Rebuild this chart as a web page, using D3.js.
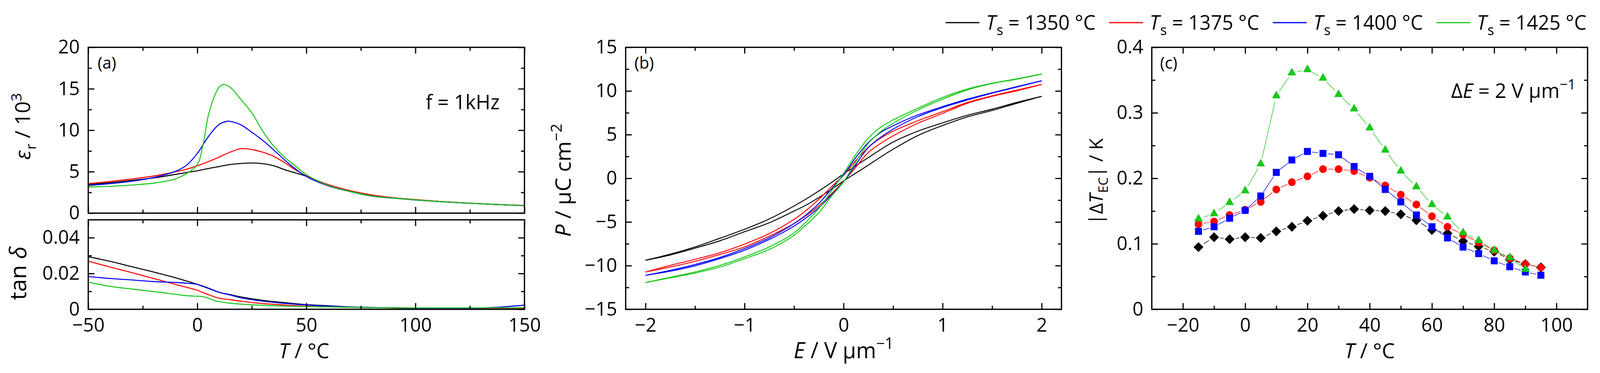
<!DOCTYPE html>
<html><head><meta charset="utf-8">
<script src="https://cdn.jsdelivr.net/npm/d3@7"></script>
<style>
html,body{margin:0;padding:0;background:#fff;overflow:hidden;}
svg{display:block;width:100vw;height:956px;font-family:"Open Sans",sans-serif;}
</style></head><body>
<svg id="chart" viewBox="0 0 4146 956" preserveAspectRatio="none"></svg>
<script>
// ---------------- DATA ----------------
const seriesLabels = ["1350", "1375", "1400", "1425"];
const seriesColors = ["#000000", "#ff0000", "#0000ff", "#19c819"];

// (a) relative permittivity (x 10^3) vs T
const epsT = [-50,-40,-30,-20,-10,-5,0,5,10,15,20,25,30,35,40,45,50,60,70,80,90,100,110,120,130,140,150];
const eps1350 = [3.47,3.67,3.96,4.25,4.68,4.90,5.11,5.38,5.62,5.86,5.99,6.05,5.97,5.72,5.25,4.85,4.45,3.40,2.68,2.15,1.85,1.62,1.42,1.27,1.14,1.02,0.93];
const eps1375 = [3.56,3.82,4.13,4.48,4.99,5.30,5.71,6.20,6.77,7.35,7.78,7.68,7.35,6.85,6.10,5.22,4.50,3.45,2.72,2.20,1.86,1.63,1.43,1.27,1.14,1.02,0.93];
const epsT1400 = [-50,-40,-30,-20,-10,-5,0,5,10,14,15,20,25,30,35,40,45,50,60,70,80,90,100,110,120,130,140,150];
const eps1400 = [3.33,3.56,3.85,4.30,5.05,5.77,7.20,9.21,10.70,11.09,11.07,10.65,9.75,8.78,7.63,6.43,5.34,4.42,3.30,2.60,2.05,1.80,1.58,1.40,1.25,1.12,1.00,0.90];
const epsT1425 = [-50,-40,-30,-20,-10,-5,-1,0,1,2,3,5,8,10,12,15,20,25,30,35,40,45,50,60,70,80,90,100,110,120,130,140,150];
const eps1425 = [3.16,3.24,3.39,3.62,4.13,4.76,5.54,5.90,6.40,7.50,8.70,11.70,14.20,15.20,15.52,15.20,13.70,12.10,9.90,8.10,6.75,5.70,4.65,3.35,2.62,2.08,1.82,1.60,1.41,1.26,1.13,1.01,0.91];

// (a) loss tangent vs T
const tanT = [-50,-40,-30,-20,-10,-5,0,5,10,15,20,30,40,50,60,70,80,100,120,130,140,150];
const tan1350 = [0.0294,0.0268,0.0238,0.0208,0.0176,0.0158,0.0139,0.0117,0.0095,0.0082,0.0069,0.0050,0.0037,0.0026,0.0020,0.0013,0.0010,0.0007,0.0006,0.0006,0.0006,0.0006];
const tan1375 = [0.0269,0.0236,0.0205,0.0172,0.0139,0.0123,0.0106,0.0082,0.0062,0.0054,0.0045,0.0032,0.0024,0.0017,0.0014,0.0011,0.0009,0.0006,0.0005,0.0005,0.0005,0.0005];
const tan1400 = [0.0183,0.0172,0.0164,0.0155,0.0150,0.0146,0.0139,0.0119,0.0095,0.0080,0.0064,0.0045,0.0033,0.0024,0.0018,0.0013,0.0010,0.0007,0.0006,0.0007,0.0013,0.0023];
const tanT1425 = [-50,-40,-30,-20,-10,-5,0,2,5,8,10,15,20,30,40,50,60,70,80,100,120,130,140,150];
const tan1425 = [0.0152,0.0128,0.0113,0.0099,0.0084,0.0076,0.0073,0.0072,0.0062,0.0048,0.0043,0.0034,0.0029,0.0022,0.0018,0.0015,0.0013,0.0011,0.0009,0.0008,0.0008,0.0008,0.0008,0.0009];

// (b) P-E loops: upper (descending) and lower (ascending) branches
const pE = [-2,-1.75,-1.5,-1.25,-1,-0.75,-0.5,-0.375,-0.25,-0.125,0,0.125,0.25,0.375,0.5,0.75,1,1.25,1.5,1.75,2];
const pUp1350 = [-9.39,-8.69,-7.86,-6.87,-5.84,-4.65,-3.17,-2.35,-1.45,-0.50,0.50,1.45,2.37,3.30,4.15,5.40,6.35,7.22,7.92,8.69,9.39];
const pLo1350 = [-9.39,-8.78,-8.00,-7.16,-6.12,-5.09,-3.75,-3.05,-2.21,-1.30,-0.30,0.60,1.51,2.45,3.33,4.90,6.05,7.03,7.77,8.59,9.39];
const pUp1375 = [-10.73,-9.97,-9.28,-8.53,-7.54,-6.33,-4.70,-3.65,-2.41,-1.00,0.35,2.05,3.55,4.60,5.40,6.60,7.63,8.69,9.45,10.10,10.75];
const pLo1375 = [-10.73,-10.16,-9.51,-8.72,-7.86,-6.62,-5.18,-4.25,-3.17,-1.80,-0.35,1.30,2.95,4.00,4.86,6.30,7.44,8.59,9.39,10.02,10.75];
const pUp1400 = [-11.11,-10.54,-9.87,-9.07,-8.05,-6.81,-5.18,-4.15,-2.89,-1.25,0.40,2.40,4.10,5.25,6.01,7.25,8.21,9.07,9.80,10.50,11.17];
const pLo1400 = [-11.11,-10.64,-10.02,-9.20,-8.24,-7.00,-5.47,-4.50,-3.37,-1.95,-0.40,1.60,3.52,4.70,5.63,7.06,8.11,8.97,9.75,10.45,11.17];
const pUp1425 = [-11.94,-11.33,-10.73,-9.97,-9.01,-7.86,-6.24,-4.95,-3.45,-1.50,0.56,2.75,4.60,5.85,6.68,8.02,9.26,10.22,10.89,11.40,11.94];
const pLo1425 = [-11.94,-11.40,-10.85,-10.16,-9.20,-8.15,-6.52,-5.30,-3.95,-2.10,-0.40,1.90,4.00,5.35,6.30,7.83,9.07,10.12,10.85,11.35,11.94];

// (c) electrocaloric temperature change |dT_EC| / K
const ecT = [-15,-10,-5,0,5,10,15,20,25,30,35,40,45,50,55,60,65,70,75,80,85,90,95];
const ec1350 = [0.095,0.110,0.107,0.110,0.109,0.119,0.126,0.135,0.143,0.150,0.153,0.151,0.150,0.145,0.136,0.121,0.116,0.104,0.096,0.088,0.076,0.069,0.064];
const ec1375 = [0.130,0.134,0.144,0.152,0.164,0.183,0.194,0.203,0.214,0.214,0.211,0.201,0.189,0.175,0.160,0.142,0.126,0.114,0.102,0.090,0.078,0.069,0.064];
const ec1400 = [0.119,0.126,0.139,0.151,0.173,0.209,0.228,0.241,0.238,0.236,0.218,0.203,0.183,0.164,0.144,0.126,0.109,0.095,0.085,0.074,0.065,0.057,0.052];
const ec1425 = [0.138,0.146,0.163,0.181,0.222,0.326,0.361,0.366,0.353,0.328,0.306,0.277,0.243,0.211,0.187,0.160,0.141,0.117,0.105,0.090,0.079,0.061];

// tick values
const aXMajor = [-50,0,50,100,150], aXMinor = [-25,25,75,125];
const epsMajor = [0,5,10,15,20], epsMinor = [2.5,7.5,12.5,17.5];
const tanMajor = [0,0.02,0.04], tanMinor = [0.01,0.03];
const bXMajor = [-2,-1,0,1,2], bXMinor = [-1.5,-0.5,0.5,1.5];
const bYMajor = [-15,-10,-5,0,5,10,15], bYMinor = [-12.5,-7.5,-2.5,2.5,7.5,12.5];
const cXMajor = [-20,0,20,40,60,80,100], cXMinor = [-10,10,30,50,70,90];
const cYMajor = [0,0.1,0.2,0.3,0.4], cYMinor = [0.05,0.15,0.25,0.35];

// ---------------- LAYOUT ----------------
const svg = d3.select("#chart");
const TICKFONT = 49, TITLEFONT = 56, MAJ = 16, MIN = 9;

const xa = d3.scaleLinear([-50,150],[228.7,1359]);
const ye = d3.scaleLinear([0,20],[546.3,121.3]);
const yt = d3.scaleLinear([0,0.05],[792.7,563.4]);
const xb = d3.scaleLinear([-2.2,2.2],[1621.3,2750.5]);
const yb = d3.scaleLinear([-15,15],[792.7,121.3]);
const xc = d3.scaleLinear([-30,110],[2984.6,4113.8]);
const yc = d3.scaleLinear([0,0.4],[792.7,121.3]);

function styleAxis(g){
  g.select(".domain").remove();
  g.selectAll(".tick line").attr("stroke","#000").attr("stroke-width",3);
  g.attr("font-family",null).attr("font-size",null);
}
function frame(x, y, xMaj, xMin, yMaj, yMin, xFmt, yFmt){
  const [x0,x1] = x.range(), [y1,y0] = y.range();
  const g = svg.append("g");
  const put = (gen, scale, vals, size, tr) =>
    g.append("g").attr("transform",tr).call(gen(scale).tickValues(vals).tickSize(-size).tickFormat("")).call(styleAxis);
  put(d3.axisBottom, x, xMaj, MAJ, `translate(0,${y1})`);
  put(d3.axisBottom, x, xMin, MIN, `translate(0,${y1})`);
  put(d3.axisTop, x, xMaj, MAJ, `translate(0,${y0})`);
  put(d3.axisTop, x, xMin, MIN, `translate(0,${y0})`);
  put(d3.axisLeft, y, yMaj, MAJ, `translate(${x0},0)`);
  put(d3.axisLeft, y, yMin, MIN, `translate(${x0},0)`);
  put(d3.axisRight, y, yMaj, MAJ, `translate(${x1},0)`);
  put(d3.axisRight, y, yMin, MIN, `translate(${x1},0)`);
  if (xFmt) {
    const gl = g.append("g").attr("transform",`translate(0,${y1})`)
      .call(d3.axisBottom(x).tickValues(xMaj).tickSize(0).tickPadding(23).tickFormat(xFmt)).call(styleAxis);
    gl.selectAll("text").attr("font-size",TICKFONT).attr("fill","#000");
  }
  if (yFmt) {
    const gl = g.append("g").attr("transform",`translate(${x0},0)`)
      .call(d3.axisLeft(y).tickValues(yMaj).tickSize(0).tickPadding(22).tickFormat(yFmt)).call(styleAxis);
    gl.selectAll("text").attr("font-size",TICKFONT).attr("fill","#000");
  }
  g.append("rect").attr("x",x0).attr("y",y0).attr("width",x1-x0).attr("height",y1-y0)
    .attr("fill","none").attr("stroke","#000").attr("stroke-width",3.3);
}
const fmtMinus = d => (d < 0 ? "\u2212" : "") + Math.abs(d);
const fmt2 = d => d === 0 ? "0" : d3.format(".2f")(d);
const fmt1 = d => d === 0 ? "0" : d3.format(".1f")(d);

// rich text helper: parts = [{t, it, sub, sup}]
function rich(sel, parts, size){
  sel.selectAll("tspan").remove();
  let shift = 0;
  parts.forEach(p => {
    const target = p.sub ? size*0.28 : p.sup ? -size*0.42 : 0;
    const ts = sel.append("tspan").text(p.t)
      .attr("font-size", (p.sub||p.sup) ? size*0.7 : size)
      .attr("dy", target - shift);
    if (p.sub) ts.attr("dx", size*0.04);
    if (p.it) ts.attr("font-style","italic");
    shift = target;
  });
  return sel;
}
// label; if a target width is given, the font size is tuned to it
function label(x, y, parts, size, anchor, rot, target){
  const t = svg.append("text").attr("fill","#000").attr("text-anchor",anchor||"start")
    .attr("transform", `translate(${x},${y})` + (rot ? ` rotate(${rot})` : ""));
  rich(t, parts, size);
  if (target) {
    const w = t.node().getBBox().width;
    if (w > 0) {
      const k = Math.max(0.8, Math.min(1.12, target / w));
      rich(t, parts, size * k);
    }
  }
  return t;
}

// ---------------- PANEL (a) ----------------
const smooth = d3.curveCatmullRom.alpha(0.5);
const lineA = (xs, ys, yScale) => d3.line().curve(smooth)
  .x((d,i)=>xa(xs[i])).y(d=>yScale(d))(ys);
const epsSets = [[epsT,eps1350],[epsT,eps1375],[epsT1400,eps1400],[epsT1425,eps1425]];
const tanSets = [[tanT,tan1350],[tanT,tan1375],[tanT,tan1400],[tanT1425,tan1425]];
epsSets.forEach(([xs,ys],i)=> svg.append("path").attr("d",lineA(xs,ys,ye))
  .attr("fill","none").attr("stroke",seriesColors[i]).attr("stroke-width",2.6));
tanSets.forEach(([xs,ys],i)=> svg.append("path").attr("d",lineA(xs,ys,yt))
  .attr("fill","none").attr("stroke",seriesColors[i]).attr("stroke-width",2.6));
frame(xa, ye, aXMajor, aXMinor, epsMajor, epsMinor, null, fmtMinus);
frame(xa, yt, aXMajor, aXMinor, tanMajor, tanMinor, fmtMinus, fmt2);

label(253, 176, [{t:"(a)"}], 42);
label(1103, 280, [{t:"f = 1kHz"}], 52, "start", 0, 192);
label(78, 324, [{t:"\u03b5",it:true},{t:"r",sub:true},{t:" / 10"},{t:"3",sup:true}], TITLEFONT, "middle", -90, 171);
label(68, 700, [{t:"tan "},{t:"\u03b4",it:true}], TITLEFONT, "middle", -90, 138);
label(788, 918, [{t:"T",it:true},{t:" / \u00b0C"}], TITLEFONT, "middle", 0, 131);

// ---------------- PANEL (b) ----------------
const lineB = d3.line().curve(smooth).x((d,i)=>xb(pE[i])).y(d=>yb(d));
const loops = [[pUp1350,pLo1350],[pUp1375,pLo1375],[pUp1400,pLo1400],[pUp1425,pLo1425]];
loops.forEach((br,i)=> br.forEach(b => svg.append("path").attr("d",lineB(b))
  .attr("fill","none").attr("stroke",seriesColors[i]).attr("stroke-width",2.4)));
frame(xb, yb, bXMajor, bXMinor, bYMajor, bYMinor, fmtMinus, fmtMinus);
label(1644, 176, [{t:"(b)"}], 42);
label(1479, 462, [{t:"P",it:true},{t:" / \u03bcC cm"},{t:"\u22122",sup:true}], TITLEFONT, "middle", -90, 290);
label(2186, 918, [{t:"E",it:true},{t:" / V \u03bcm"},{t:"\u22121",sup:true}], TITLEFONT, "middle", 0, 259);

// ---------------- PANEL (c) ----------------
const ecSets = [ec1350, ec1375, ec1400, ec1425];
const symbols = [
  {type:d3.symbolSquare, size:18*18, rot:45, r:12.5},
  {type:d3.symbolCircle, size:Math.PI*10*10, rot:0, r:10},
  {type:d3.symbolSquare, size:18*18, rot:0, r:9.5},
  {type:d3.symbolTriangle, size:220, rot:0, r:11}
];
ecSets.forEach((ys,i)=>{
  const pts = ys.map((v,k)=>[xc(ecT[k]), yc(v)]);
  const g = svg.append("g");
  const gap = symbols[i].r + 3;
  for (let k=0;k<pts.length-1;k++){
    const [ax,ay]=pts[k],[bx,by]=pts[k+1];
    const d=Math.hypot(bx-ax,by-ay);
    if (d <= 2*gap) continue;
    const ux=(bx-ax)/d, uy=(by-ay)/d;
    g.append("line").attr("x1",ax+ux*gap).attr("y1",ay+uy*gap)
      .attr("x2",bx-ux*gap).attr("y2",by-uy*gap)
      .attr("stroke",seriesColors[i]).attr("stroke-width",1.4);
  }
  g.selectAll("path.m").data(pts).join("path").attr("class","m")
    .attr("d", d3.symbol(symbols[i].type, symbols[i].size)())
    .attr("transform", p => `translate(${p[0]},${p[1]}) rotate(${symbols[i].rot})`)
    .attr("fill", seriesColors[i]);
});
frame(xc, yc, cXMajor, cXMinor, cYMajor, cYMinor, fmtMinus, fmt1);
label(3006, 176, [{t:"(c)"}], 42);
label(4083, 251, [{t:"\u0394"},{t:"E",it:true},{t:" = 2 V \u03bcm"},{t:"\u22121",sup:true}], 52, "end", 0, 323);
label(2857, 465, [{t:"|\u0394"},{t:"T",it:true},{t:"EC",sub:true},{t:"| / K"}], TITLEFONT, "middle", -90, 222);
label(3549, 918, [{t:"T",it:true},{t:" / \u00b0C"}], TITLEFONT, "middle", 0, 131);

// ---------------- LEGEND ----------------
// text right ends; line sits 17 px before the text
seriesLabels.forEach((s,i)=>{
  const xEnd = 2839 + i*424;
  const xStart = xEnd - 284;
  svg.append("line").attr("x1",xStart-105).attr("x2",xStart-17).attr("y1",58).attr("y2",58)
    .attr("stroke",seriesColors[i]).attr("stroke-width",3);
  label(xEnd, 76, [{t:"T",it:true},{t:"s",sub:true},{t:` = ${s} \u00b0C`}], 53, "end", 0, 284);
});
</script></body></html>
